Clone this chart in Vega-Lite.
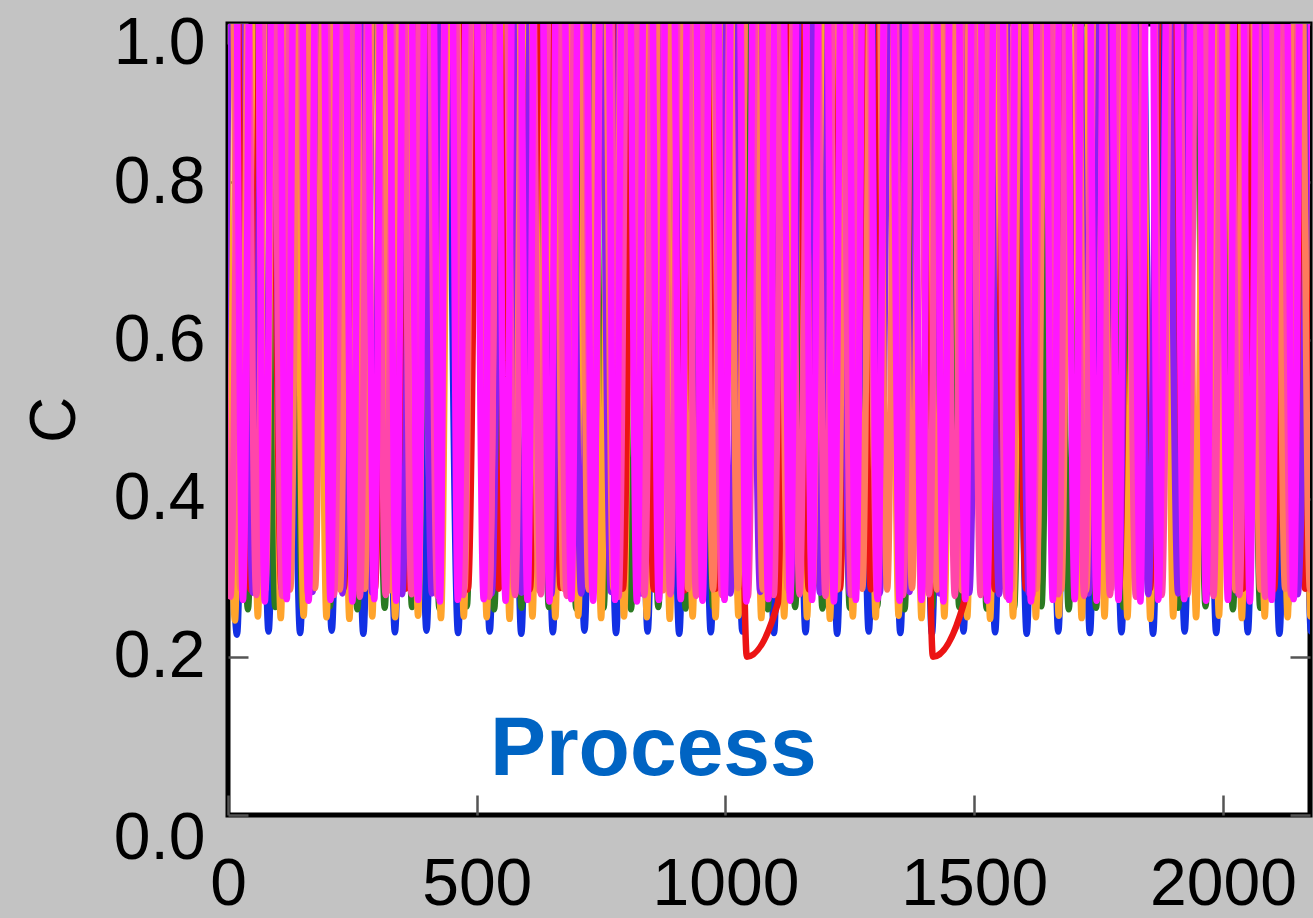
{
  "$schema": "https://vega.github.io/schema/vega-lite/v6.json",
  "width": 1082,
  "height": 791,
  "autosize": {"type": "none"},
  "padding": {"left": 228, "top": 24, "right": 3, "bottom": 103},
  "background": "#c3c3c3",
  "config": {
    "view": {"stroke": "#000000", "strokeWidth": 5, "fill": "#ffffff"},
    "axis": {"labelFont": "Liberation Sans", "titleFont": "Liberation Sans", "labelColor": "#000000", "titleColor": "#000000", "grid": false, "domain": false, "tickColor": "#555555", "tickWidth": 2.5, "tickSize": -20}
  },
  "datasets": {
    "curves": [
      {"s":"b","t":-13.8,"c":1.6},{"s":"b","t":18,"c":0.228},{"s":"b","t":49.8,"c":1.6},{"s":"b","t":81.5,"c":0.232},{"s":"b","t":113.3,"c":1.6},{"s":"b","t":145,"c":0.23},{"s":"b","t":176.8,"c":1.6},{"s":"b","t":208.5,"c":0.233},{"s":"b","t":240.3,"c":1.6},{"s":"b","t":272,"c":0.229},{"s":"b","t":303.8,"c":1.6},{"s":"b","t":335.5,"c":0.231},{"s":"b","t":367.3,"c":1.6},{"s":"b","t":399,"c":0.233},{"s":"b","t":430.8,"c":1.6},{"s":"b","t":462.5,"c":0.23},{"s":"b","t":494.3,"c":1.6},{"s":"b","t":526,"c":0.232},{"s":"b","t":557.8,"c":1.6},{"s":"b","t":589.5,"c":0.229},{"s":"b","t":621.3,"c":1.6},{"s":"b","t":653,"c":0.231},{"s":"b","t":684.8,"c":1.6},{"s":"b","t":716.5,"c":0.233},{"s":"b","t":748.3,"c":1.6},{"s":"b","t":780,"c":0.23},{"s":"b","t":811.8,"c":1.6},{"s":"b","t":843.5,"c":0.232},{"s":"b","t":875.3,"c":1.6},{"s":"b","t":907,"c":0.229},{"s":"b","t":938.8,"c":1.6},{"s":"b","t":970.5,"c":0.231},{"s":"b","t":1002.3,"c":1.6},{"s":"b","t":1034,"c":0.232},{"s":"b","t":1065.8,"c":1.6},{"s":"b","t":1097.5,"c":0.23},{"s":"b","t":1129.3,"c":1.6},{"s":"b","t":1161,"c":0.231},{"s":"b","t":1192.8,"c":1.6},{"s":"b","t":1224.5,"c":0.229},{"s":"b","t":1256.3,"c":1.6},{"s":"b","t":1288,"c":0.232},{"s":"b","t":1319.8,"c":1.6},{"s":"b","t":1351.5,"c":0.23},{"s":"b","t":1383.3,"c":1.6},{"s":"b","t":1415,"c":0.229},{"s":"b","t":1446.8,"c":1.6},{"s":"b","t":1478.5,"c":0.232},{"s":"b","t":1510.3,"c":1.6},{"s":"b","t":1542,"c":0.231},{"s":"b","t":1573.8,"c":1.6},{"s":"b","t":1605.5,"c":0.229},{"s":"b","t":1637.3,"c":1.6},{"s":"b","t":1669,"c":0.232},{"s":"b","t":1700.8,"c":1.6},{"s":"b","t":1732.5,"c":0.23},{"s":"b","t":1764.3,"c":1.6},{"s":"b","t":1796,"c":0.231},{"s":"b","t":1827.8,"c":1.6},{"s":"b","t":1859.5,"c":0.229},{"s":"b","t":1891.3,"c":1.6},{"s":"b","t":1923,"c":0.232},{"s":"b","t":1954.8,"c":1.6},{"s":"b","t":1986.5,"c":0.23},{"s":"b","t":2018.3,"c":1.6},{"s":"b","t":2050,"c":0.231},{"s":"b","t":2081.8,"c":1.6},{"s":"b","t":2113.5,"c":0.229},{"s":"b","t":2145.3,"c":1.6},{"s":"b","t":2177,"c":0.232},{"s":"b","t":2208.8,"c":1.6},

      {"s":"g","t":-15,"c":0.262},{"s":"g","t":12.5,"c":1.6},{"s":"g","t":40,"c":0.26},{"s":"g","t":67.5,"c":1.6},{"s":"g","t":95,"c":0.263},{"s":"g","t":122.5,"c":1.6},{"s":"g","t":150,"c":0.261},{"s":"g","t":177.5,"c":1.6},{"s":"g","t":205,"c":0.264},{"s":"g","t":232.5,"c":1.6},{"s":"g","t":260,"c":0.26},{"s":"g","t":287.5,"c":1.6},{"s":"g","t":315,"c":0.262},{"s":"g","t":342.5,"c":1.6},{"s":"g","t":370,"c":0.263},{"s":"g","t":397.5,"c":1.6},{"s":"g","t":425,"c":0.261},{"s":"g","t":452.5,"c":1.6},{"s":"g","t":480,"c":0.264},{"s":"g","t":507.5,"c":1.6},{"s":"g","t":535,"c":0.26},{"s":"g","t":562.5,"c":1.6},{"s":"g","t":590,"c":0.262},{"s":"g","t":617.5,"c":1.6},{"s":"g","t":645,"c":0.263},{"s":"g","t":672.5,"c":1.6},{"s":"g","t":700,"c":0.261},{"s":"g","t":727.5,"c":1.6},{"s":"g","t":755,"c":0.262},{"s":"g","t":782.5,"c":1.6},{"s":"g","t":810,"c":0.26},{"s":"g","t":837.5,"c":1.6},{"s":"g","t":865,"c":0.263},{"s":"g","t":892.5,"c":1.6},{"s":"g","t":920,"c":0.261},{"s":"g","t":947.5,"c":1.6},{"s":"g","t":975,"c":0.264},{"s":"g","t":1002.5,"c":1.6},{"s":"g","t":1030,"c":0.262},{"s":"g","t":1057.5,"c":1.6},{"s":"g","t":1085,"c":0.26},{"s":"g","t":1112.5,"c":1.6},{"s":"g","t":1140,"c":0.263},{"s":"g","t":1167.5,"c":1.6},{"s":"g","t":1195,"c":0.261},{"s":"g","t":1222.5,"c":1.6},{"s":"g","t":1250,"c":0.262},{"s":"g","t":1277.5,"c":1.6},{"s":"g","t":1305,"c":0.264},{"s":"g","t":1332.5,"c":1.6},{"s":"g","t":1360,"c":0.26},{"s":"g","t":1387.5,"c":1.6},{"s":"g","t":1415,"c":0.262},{"s":"g","t":1442.5,"c":1.6},{"s":"g","t":1470,"c":0.263},{"s":"g","t":1497.5,"c":1.6},{"s":"g","t":1525,"c":0.261},{"s":"g","t":1552.5,"c":1.6},{"s":"g","t":1580,"c":0.262},{"s":"g","t":1607.5,"c":1.6},{"s":"g","t":1635,"c":0.264},{"s":"g","t":1662.5,"c":1.6},{"s":"g","t":1690,"c":0.26},{"s":"g","t":1717.5,"c":1.6},{"s":"g","t":1745,"c":0.262},{"s":"g","t":1772.5,"c":1.6},{"s":"g","t":1800,"c":0.263},{"s":"g","t":1827.5,"c":1.6},{"s":"g","t":1855,"c":0.261},{"s":"g","t":1882.5,"c":1.6},{"s":"g","t":1910,"c":0.262},{"s":"g","t":1937.5,"c":1.6},{"s":"g","t":1965,"c":0.264},{"s":"g","t":1992.5,"c":1.6},{"s":"g","t":2020,"c":0.26},{"s":"g","t":2047.5,"c":1.6},{"s":"g","t":2075,"c":0.262},{"s":"g","t":2102.5,"c":1.6},{"s":"g","t":2130,"c":0.263},{"s":"g","t":2157.5,"c":1.6},{"s":"g","t":2185,"c":0.261},

      {"s":"o","t":-9,"c":1.6},{"s":"o","t":14,"c":0.246},{"s":"o","t":37,"c":1.6},{"s":"o","t":60,"c":0.251},{"s":"o","t":83,"c":1.6},{"s":"o","t":106,"c":0.249},{"s":"o","t":129,"c":1.6},{"s":"o","t":152,"c":0.252},{"s":"o","t":175,"c":1.6},{"s":"o","t":198,"c":0.25},{"s":"o","t":221,"c":1.6},{"s":"o","t":244,"c":0.248},{"s":"o","t":267,"c":1.6},{"s":"o","t":290,"c":0.251},{"s":"o","t":313,"c":1.6},{"s":"o","t":336,"c":0.25},{"s":"o","t":359,"c":1.6},{"s":"o","t":382,"c":0.252},{"s":"o","t":405,"c":1.6},{"s":"o","t":428,"c":0.249},{"s":"o","t":451,"c":1.6},{"s":"o","t":474,"c":0.251},{"s":"o","t":497,"c":1.6},{"s":"o","t":520,"c":0.25},{"s":"o","t":543,"c":1.6},{"s":"o","t":566,"c":0.248},{"s":"o","t":589,"c":1.6},{"s":"o","t":612,"c":0.251},{"s":"o","t":635,"c":1.6},{"s":"o","t":658,"c":0.25},{"s":"o","t":681,"c":1.6},{"s":"o","t":704,"c":0.252},{"s":"o","t":727,"c":1.6},{"s":"o","t":750,"c":0.249},{"s":"o","t":773,"c":1.6},{"s":"o","t":796,"c":0.251},{"s":"o","t":819,"c":1.6},{"s":"o","t":842,"c":0.25},{"s":"o","t":865,"c":1.6},{"s":"o","t":888,"c":0.248},{"s":"o","t":911,"c":1.6},{"s":"o","t":934,"c":0.251},{"s":"o","t":957,"c":1.6},{"s":"o","t":980,"c":0.25},{"s":"o","t":1003,"c":1.6},{"s":"o","t":1026,"c":0.252},{"s":"o","t":1049,"c":1.6},{"s":"o","t":1072,"c":0.249},{"s":"o","t":1095,"c":1.6},{"s":"o","t":1118,"c":0.251},{"s":"o","t":1141,"c":1.6},{"s":"o","t":1164,"c":0.25},{"s":"o","t":1187,"c":1.6},{"s":"o","t":1210,"c":0.248},{"s":"o","t":1233,"c":1.6},{"s":"o","t":1256,"c":0.251},{"s":"o","t":1279,"c":1.6},{"s":"o","t":1302,"c":0.25},{"s":"o","t":1325,"c":1.6},{"s":"o","t":1348,"c":0.252},{"s":"o","t":1371,"c":1.6},{"s":"o","t":1394,"c":0.249},{"s":"o","t":1417,"c":1.6},{"s":"o","t":1440,"c":0.251},{"s":"o","t":1463,"c":1.6},{"s":"o","t":1486,"c":0.25},{"s":"o","t":1509,"c":1.6},{"s":"o","t":1532,"c":0.248},{"s":"o","t":1555,"c":1.6},{"s":"o","t":1578,"c":0.251},{"s":"o","t":1601,"c":1.6},{"s":"o","t":1624,"c":0.25},{"s":"o","t":1647,"c":1.6},{"s":"o","t":1670,"c":0.252},{"s":"o","t":1693,"c":1.6},{"s":"o","t":1716,"c":0.249},{"s":"o","t":1739,"c":1.6},{"s":"o","t":1762,"c":0.251},{"s":"o","t":1785,"c":1.6},{"s":"o","t":1808,"c":0.25},{"s":"o","t":1831,"c":1.6},{"s":"o","t":1854,"c":0.248},{"s":"o","t":1877,"c":1.6},{"s":"o","t":1900,"c":0.251},{"s":"o","t":1923,"c":1.6},{"s":"o","t":1946,"c":0.25},{"s":"o","t":1969,"c":1.6},{"s":"o","t":1992,"c":0.252},{"s":"o","t":2015,"c":1.6},{"s":"o","t":2038,"c":0.249},{"s":"o","t":2061,"c":1.6},{"s":"o","t":2084,"c":0.251},{"s":"o","t":2107,"c":1.6},{"s":"o","t":2130,"c":0.25},{"s":"o","t":2153,"c":1.6},{"s":"o","t":2176,"c":0.251},{"s":"o","t":2199,"c":1.6},

      {"s":"r","t":14.5,"c":1.6},{"s":"r","t":45.7,"c":0.285},{"s":"r","t":76.9,"c":1.6},{"s":"r","t":108,"c":0.286},{"s":"r","t":139.2,"c":1.6},{"s":"r","t":170.3,"c":0.285},{"s":"r","t":201.5,"c":1.6},{"s":"r","t":232.7,"c":0.287},{"s":"r","t":263.8,"c":1.6},{"s":"r","t":295,"c":0.285},{"s":"r","t":326.2,"c":1.6},{"s":"r","t":357.3,"c":0.286},{"s":"r","t":388.5,"c":1.6},{"s":"r","t":419.7,"c":0.284},{"s":"r","t":450.8,"c":1.6},{"s":"r","t":482,"c":0.285},{"s":"r","t":513.2,"c":1.6},{"s":"r","t":544.3,"c":0.286},{"s":"r","t":575.5,"c":1.6},{"s":"r","t":606.7,"c":0.285},{"s":"r","t":637.8,"c":1.6},{"s":"r","t":669,"c":0.287},{"s":"r","t":700.2,"c":1.6},{"s":"r","t":731.3,"c":0.285},{"s":"r","t":762.5,"c":1.6},{"s":"r","t":793.7,"c":0.286},{"s":"r","t":824.8,"c":1.6},{"s":"r","t":856,"c":0.285},{"s":"r","t":887.2,"c":1.6},{"s":"r","t":918.3,"c":0.284},{"s":"r","t":949.5,"c":1.6},{"s":"r","t":980.7,"c":0.286},{"s":"r","t":1011.8,"c":1.6},{"s":"r","t":1043,"c":0.2},{"s":"r","t":1105.3,"c":0.268},{"s":"r","t":1136.5,"c":1.6},{"s":"r","t":1167.7,"c":0.285},{"s":"r","t":1198.8,"c":1.6},{"s":"r","t":1230,"c":0.286},{"s":"r","t":1261.2,"c":1.6},{"s":"r","t":1292.3,"c":0.285},{"s":"r","t":1323.5,"c":1.6},{"s":"r","t":1354.7,"c":0.286},{"s":"r","t":1385.8,"c":1.6},{"s":"r","t":1417,"c":0.2},{"s":"r","t":1479.3,"c":0.268},{"s":"r","t":1510.5,"c":1.6},{"s":"r","t":1541.7,"c":0.285},{"s":"r","t":1572.8,"c":1.6},{"s":"r","t":1604,"c":0.286},{"s":"r","t":1635.2,"c":1.6},{"s":"r","t":1666.3,"c":0.285},{"s":"r","t":1697.5,"c":1.6},{"s":"r","t":1728.7,"c":0.287},{"s":"r","t":1759.8,"c":1.6},{"s":"r","t":1791,"c":0.285},{"s":"r","t":1822.2,"c":1.6},{"s":"r","t":1853.3,"c":0.286},{"s":"r","t":1884.5,"c":1.6},{"s":"r","t":1915.7,"c":0.285},{"s":"r","t":1946.8,"c":1.6},{"s":"r","t":1978,"c":0.284},{"s":"r","t":2009.2,"c":1.6},{"s":"r","t":2040.3,"c":0.286},{"s":"r","t":2071.5,"c":1.6},{"s":"r","t":2102.7,"c":0.285},{"s":"r","t":2133.8,"c":1.6},{"s":"r","t":2165,"c":0.286},{"s":"r","t":2196.2,"c":1.6},

      {"s":"p","t":-10,"c":0.28},{"s":"p","t":20,"c":1.6},{"s":"p","t":50,"c":0.281},{"s":"p","t":80,"c":1.6},{"s":"p","t":110,"c":0.279},{"s":"p","t":140,"c":1.6},{"s":"p","t":170,"c":0.282},{"s":"p","t":200,"c":1.6},{"s":"p","t":230,"c":0.28},{"s":"p","t":260,"c":1.6},{"s":"p","t":290,"c":0.281},{"s":"p","t":320,"c":1.6},{"s":"p","t":350,"c":0.279},{"s":"p","t":380,"c":1.6},{"s":"p","t":410,"c":0.28},{"s":"p","t":440,"c":1.6},{"s":"p","t":470,"c":0.282},{"s":"p","t":500,"c":1.6},{"s":"p","t":530,"c":0.28},{"s":"p","t":560,"c":1.6},{"s":"p","t":590,"c":0.281},{"s":"p","t":620,"c":1.6},{"s":"p","t":650,"c":0.279},{"s":"p","t":680,"c":1.6},{"s":"p","t":710,"c":0.28},{"s":"p","t":740,"c":1.6},{"s":"p","t":770,"c":0.282},{"s":"p","t":800,"c":1.6},{"s":"p","t":830,"c":0.28},{"s":"p","t":860,"c":1.6},{"s":"p","t":890,"c":0.281},{"s":"p","t":920,"c":1.6},{"s":"p","t":950,"c":0.279},{"s":"p","t":980,"c":1.6},{"s":"p","t":1010,"c":0.28},{"s":"p","t":1040,"c":1.6},{"s":"p","t":1070,"c":0.282},{"s":"p","t":1100,"c":1.6},{"s":"p","t":1130,"c":0.28},{"s":"p","t":1160,"c":1.6},{"s":"p","t":1190,"c":0.281},{"s":"p","t":1220,"c":1.6},{"s":"p","t":1250,"c":0.279},{"s":"p","t":1280,"c":1.6},{"s":"p","t":1310,"c":0.28},{"s":"p","t":1340,"c":1.6},{"s":"p","t":1370,"c":0.282},{"s":"p","t":1400,"c":1.6},{"s":"p","t":1430,"c":0.28},{"s":"p","t":1460,"c":1.6},{"s":"p","t":1490,"c":0.281},{"s":"p","t":1520,"c":1.6},{"s":"p","t":1550,"c":0.279},{"s":"p","t":1580,"c":1.6},{"s":"p","t":1610,"c":0.28},{"s":"p","t":1640,"c":1.6},{"s":"p","t":1670,"c":0.282},{"s":"p","t":1700,"c":1.6},{"s":"p","t":1730,"c":0.28},{"s":"p","t":1760,"c":1.6},{"s":"p","t":1790,"c":0.281},{"s":"p","t":1820,"c":1.6},{"s":"p","t":1850,"c":0.279},{"s":"p","t":1880,"c":1.6},{"s":"p","t":1910,"c":0.28},{"s":"p","t":1940,"c":1.6},{"s":"p","t":1970,"c":0.282},{"s":"p","t":2000,"c":1.6},{"s":"p","t":2030,"c":0.28},{"s":"p","t":2060,"c":1.6},{"s":"p","t":2090,"c":0.281},{"s":"p","t":2120,"c":1.6},{"s":"p","t":2150,"c":0.279},{"s":"p","t":2180,"c":1.6},

      {"s":"l","t":-25,"c":0.285},{"s":"l","t":0,"c":1.6},{"s":"l","t":25,"c":0.286},{"s":"l","t":50,"c":1.6},{"s":"l","t":75,"c":0.284},{"s":"l","t":100,"c":1.6},{"s":"l","t":125,"c":0.285},{"s":"l","t":150,"c":1.6},{"s":"l","t":175,"c":0.287},{"s":"l","t":200,"c":1.6},{"s":"l","t":225,"c":0.285},{"s":"l","t":250,"c":1.6},{"s":"l","t":275,"c":0.286},{"s":"l","t":300,"c":1.6},{"s":"l","t":325,"c":0.284},{"s":"l","t":350,"c":1.6},{"s":"l","t":375,"c":0.285},{"s":"l","t":400,"c":1.6},{"s":"l","t":425,"c":0.286},{"s":"l","t":450,"c":1.6},{"s":"l","t":475,"c":0.285},{"s":"l","t":500,"c":1.6},{"s":"l","t":525,"c":0.287},{"s":"l","t":550,"c":1.6},{"s":"l","t":575,"c":0.285},{"s":"l","t":600,"c":1.6},{"s":"l","t":625,"c":0.284},{"s":"l","t":650,"c":1.6},{"s":"l","t":675,"c":0.286},{"s":"l","t":700,"c":1.6},{"s":"l","t":725,"c":0.285},{"s":"l","t":750,"c":1.6},{"s":"l","t":775,"c":0.286},{"s":"l","t":800,"c":1.6},{"s":"l","t":825,"c":0.285},{"s":"l","t":850,"c":1.6},{"s":"l","t":875,"c":0.284},{"s":"l","t":900,"c":1.6},{"s":"l","t":925,"c":0.286},{"s":"l","t":950,"c":1.6},{"s":"l","t":975,"c":0.285},{"s":"l","t":1000,"c":1.6},{"s":"l","t":1025,"c":0.287},{"s":"l","t":1050,"c":1.6},{"s":"l","t":1075,"c":0.285},{"s":"l","t":1100,"c":1.6},{"s":"l","t":1125,"c":0.286},{"s":"l","t":1150,"c":1.6},{"s":"l","t":1175,"c":0.284},{"s":"l","t":1200,"c":1.6},{"s":"l","t":1225,"c":0.285},{"s":"l","t":1250,"c":1.6},{"s":"l","t":1275,"c":0.286},{"s":"l","t":1300,"c":1.6},{"s":"l","t":1325,"c":0.285},{"s":"l","t":1350,"c":1.6},{"s":"l","t":1375,"c":0.287},{"s":"l","t":1400,"c":1.6},{"s":"l","t":1425,"c":0.285},{"s":"l","t":1450,"c":1.6},{"s":"l","t":1475,"c":0.284},{"s":"l","t":1500,"c":1.6},{"s":"l","t":1525,"c":0.286},{"s":"l","t":1550,"c":1.6},{"s":"l","t":1575,"c":0.285},{"s":"l","t":1600,"c":1.6},{"s":"l","t":1625,"c":0.286},{"s":"l","t":1650,"c":1.6},{"s":"l","t":1675,"c":0.285},{"s":"l","t":1700,"c":1.6},{"s":"l","t":1725,"c":0.284},{"s":"l","t":1750,"c":1.6},{"s":"l","t":1775,"c":0.286},{"s":"l","t":1800,"c":1.6},{"s":"l","t":1825,"c":0.285},{"s":"l","t":1850,"c":1.6},{"s":"l","t":1875,"c":0.287},{"s":"l","t":1900,"c":1.6},{"s":"l","t":1925,"c":0.285},{"s":"l","t":1950,"c":1.6},{"s":"l","t":1975,"c":0.286},{"s":"l","t":2000,"c":1.6},{"s":"l","t":2025,"c":0.284},{"s":"l","t":2050,"c":1.6},{"s":"l","t":2075,"c":0.285},{"s":"l","t":2100,"c":1.6},{"s":"l","t":2125,"c":0.286},{"s":"l","t":2150,"c":1.6},{"s":"l","t":2175,"c":0.285},{"s":"l","t":2200,"c":1.6},

      {"s":"k","t":-21,"c":1.6},{"s":"k","t":5,"c":0.276},{"s":"k","t":31,"c":1.6},{"s":"k","t":57,"c":0.278},{"s":"k","t":83,"c":1.6},{"s":"k","t":109,"c":0.277},{"s":"k","t":135,"c":1.6},{"s":"k","t":161,"c":0.279},{"s":"k","t":187,"c":1.6},{"s":"k","t":213,"c":0.278},{"s":"k","t":239,"c":1.6},{"s":"k","t":265,"c":0.276},{"s":"k","t":291,"c":1.6},{"s":"k","t":317,"c":0.278},{"s":"k","t":343,"c":1.6},{"s":"k","t":369,"c":0.279},{"s":"k","t":395,"c":1.6},{"s":"k","t":421,"c":0.277},{"s":"k","t":447,"c":1.6},{"s":"k","t":473,"c":0.278},{"s":"k","t":499,"c":1.6},{"s":"k","t":525,"c":0.276},{"s":"k","t":551,"c":1.6},{"s":"k","t":577,"c":0.278},{"s":"k","t":603,"c":1.6},{"s":"k","t":629,"c":0.279},{"s":"k","t":655,"c":1.6},{"s":"k","t":681,"c":0.277},{"s":"k","t":707,"c":1.6},{"s":"k","t":733,"c":0.278},{"s":"k","t":759,"c":1.6},{"s":"k","t":785,"c":0.276},{"s":"k","t":811,"c":1.6},{"s":"k","t":837,"c":0.278},{"s":"k","t":863,"c":1.6},{"s":"k","t":889,"c":0.279},{"s":"k","t":915,"c":1.6},{"s":"k","t":941,"c":0.277},{"s":"k","t":967,"c":1.6},{"s":"k","t":993,"c":0.278},{"s":"k","t":1019,"c":1.6},{"s":"k","t":1045,"c":0.276},{"s":"k","t":1071,"c":1.6},{"s":"k","t":1097,"c":0.278},{"s":"k","t":1123,"c":1.6},{"s":"k","t":1149,"c":0.279},{"s":"k","t":1175,"c":1.6},{"s":"k","t":1201,"c":0.277},{"s":"k","t":1227,"c":1.6},{"s":"k","t":1253,"c":0.278},{"s":"k","t":1279,"c":1.6},{"s":"k","t":1305,"c":0.276},{"s":"k","t":1331,"c":1.6},{"s":"k","t":1357,"c":0.278},{"s":"k","t":1383,"c":1.6},{"s":"k","t":1409,"c":0.279},{"s":"k","t":1435,"c":1.6},{"s":"k","t":1461,"c":0.277},{"s":"k","t":1487,"c":1.6},{"s":"k","t":1513,"c":0.278},{"s":"k","t":1539,"c":1.6},{"s":"k","t":1565,"c":0.276},{"s":"k","t":1591,"c":1.6},{"s":"k","t":1617,"c":0.278},{"s":"k","t":1643,"c":1.6},{"s":"k","t":1669,"c":0.279},{"s":"k","t":1695,"c":1.6},{"s":"k","t":1721,"c":0.277},{"s":"k","t":1747,"c":1.6},{"s":"k","t":1773,"c":0.278},{"s":"k","t":1799,"c":1.6},{"s":"k","t":1825,"c":0.276},{"s":"k","t":1851,"c":1.6},{"s":"k","t":1877,"c":0.278},{"s":"k","t":1903,"c":1.6},{"s":"k","t":1929,"c":0.279},{"s":"k","t":1955,"c":1.6},{"s":"k","t":1981,"c":0.277},{"s":"k","t":2007,"c":1.6},{"s":"k","t":2033,"c":0.278},{"s":"k","t":2059,"c":1.6},{"s":"k","t":2085,"c":0.276},{"s":"k","t":2111,"c":1.6},{"s":"k","t":2137,"c":0.278},{"s":"k","t":2163,"c":1.6},{"s":"k","t":2189,"c":0.277},

      {"s":"m","t":-14,"c":0.27},{"s":"m","t":8,"c":1.6},{"s":"m","t":30,"c":0.272},{"s":"m","t":52,"c":1.6},{"s":"m","t":74,"c":0.27},{"s":"m","t":96,"c":1.6},{"s":"m","t":118,"c":0.273},{"s":"m","t":140,"c":1.6},{"s":"m","t":162,"c":0.271},{"s":"m","t":184,"c":1.6},{"s":"m","t":206,"c":0.272},{"s":"m","t":228,"c":1.6},{"s":"m","t":250,"c":0.27},{"s":"m","t":272,"c":1.6},{"s":"m","t":294,"c":0.273},{"s":"m","t":316,"c":1.6},{"s":"m","t":338,"c":0.271},{"s":"m","t":360,"c":1.6},{"s":"m","t":382,"c":0.272},{"s":"m","t":404,"c":1.6},{"s":"m","t":426,"c":0.27},{"s":"m","t":444,"c":1.6},{"s":"m","t":462,"c":0.272},{"s":"m","t":490,"c":1.6},{"s":"m","t":514,"c":0.273},{"s":"m","t":536,"c":1.6},{"s":"m","t":558,"c":0.271},{"s":"m","t":580,"c":1.6},{"s":"m","t":602,"c":0.272},{"s":"m","t":624,"c":1.6},{"s":"m","t":646,"c":0.27},{"s":"m","t":668,"c":1.6},{"s":"m","t":690,"c":0.273},{"s":"m","t":712,"c":1.6},{"s":"m","t":734,"c":0.271},{"s":"m","t":756,"c":1.6},{"s":"m","t":778,"c":0.272},{"s":"m","t":800,"c":1.6},{"s":"m","t":822,"c":0.27},{"s":"m","t":844,"c":1.6},{"s":"m","t":866,"c":0.272},{"s":"m","t":888,"c":1.6},{"s":"m","t":910,"c":0.273},{"s":"m","t":932,"c":1.6},{"s":"m","t":954,"c":0.271},{"s":"m","t":976,"c":1.6},{"s":"m","t":998,"c":0.272},{"s":"m","t":1020,"c":1.6},{"s":"m","t":1042,"c":0.27},{"s":"m","t":1064,"c":1.6},{"s":"m","t":1086,"c":0.273},{"s":"m","t":1108,"c":1.6},{"s":"m","t":1130,"c":0.271},{"s":"m","t":1152,"c":1.6},{"s":"m","t":1174,"c":0.272},{"s":"m","t":1196,"c":1.6},{"s":"m","t":1218,"c":0.27},{"s":"m","t":1240,"c":1.6},{"s":"m","t":1262,"c":0.272},{"s":"m","t":1284,"c":1.6},{"s":"m","t":1306,"c":0.273},{"s":"m","t":1328,"c":1.6},{"s":"m","t":1350,"c":0.271},{"s":"m","t":1372,"c":1.6},{"s":"m","t":1394,"c":0.272},{"s":"m","t":1416,"c":1.6},{"s":"m","t":1438,"c":0.27},{"s":"m","t":1460,"c":1.6},{"s":"m","t":1482,"c":0.273},{"s":"m","t":1504,"c":1.6},{"s":"m","t":1526,"c":0.271},{"s":"m","t":1548,"c":1.6},{"s":"m","t":1570,"c":0.272},{"s":"m","t":1592,"c":1.6},{"s":"m","t":1614,"c":0.27},{"s":"m","t":1636,"c":1.6},{"s":"m","t":1658,"c":0.272},{"s":"m","t":1680,"c":1.6},{"s":"m","t":1702,"c":0.273},{"s":"m","t":1724,"c":1.6},{"s":"m","t":1746,"c":0.271},{"s":"m","t":1768,"c":1.6},{"s":"m","t":1790,"c":0.272},{"s":"m","t":1812,"c":1.6},{"s":"m","t":1834,"c":0.27},{"s":"m","t":1852,"c":1.6},{"s":"m","t":1870,"c":0.272},{"s":"m","t":1898,"c":1.6},{"s":"m","t":1922,"c":0.273},{"s":"m","t":1944,"c":1.6},{"s":"m","t":1966,"c":0.271},{"s":"m","t":1988,"c":1.6},{"s":"m","t":2010,"c":0.272},{"s":"m","t":2032,"c":1.6},{"s":"m","t":2054,"c":0.27},{"s":"m","t":2076,"c":1.6},{"s":"m","t":2098,"c":0.272},{"s":"m","t":2120,"c":1.6},{"s":"m","t":2142,"c":0.273},{"s":"m","t":2164,"c":1.6},{"s":"m","t":2186,"c":0.271}
    ],
    "note": [{"t": 855, "c": 0.0506, "label": "Process"}]
  },
  "layer": [
    {
      "data": {"name": "curves"},
      "mark": {"type": "line", "strokeWidth": 6.5, "interpolate": "monotone", "clip": true},
      "encoding": {
        "x": {"field": "t", "type": "quantitative", "scale": {"domain": [0, 2175], "nice": false, "zero": false},
          "axis": {"orient": "bottom", "values": [0, 500, 1000, 1500, 2000], "format": "d", "labelFontSize": 66, "labelPadding": 57, "labelFlush": false, "title": null}},
        "y": {"field": "c", "type": "quantitative", "scale": {"domain": [0, 1], "nice": false},
          "axis": {"orient": "left", "values": [0, 0.2, 0.4, 0.6, 0.8, 1], "format": ".1f", "labelFontSize": 66, "labelPadding": 43, "labelFlush": false,
            "labelOffset": {"condition": [{"test": "datum.value == 1", "value": 19}, {"test": "datum.value == 0", "value": 23}], "value": 0},
            "title": "C", "titleFontSize": 64, "titleFontWeight": "normal", "titlePadding": 26}},
        "color": {"field": "s", "type": "nominal", "legend": null,
          "scale": {"domain": ["b", "g", "o", "r", "p", "l", "k", "m"], "range": ["#1230e4", "#2b7a22", "#ffa42c", "#ec1414", "#8c20f0", "#ff7a5c", "#ff46aa", "#ff16ff"]}}
      }
    },
    {
      "data": {"name": "note"},
      "mark": {"type": "text", "font": "Liberation Sans", "fontWeight": "bold", "fontSize": 84, "color": "#0064c3", "align": "center", "baseline": "alphabetic"},
      "encoding": {
        "x": {"field": "t", "type": "quantitative", "axis": {"orient": "top", "values": [0, 500, 1000, 1500, 2000], "labels": false, "title": null}},
        "y": {"field": "c", "type": "quantitative", "axis": {"orient": "right", "values": [0, 0.2, 0.4, 0.6, 0.8, 1], "labels": false, "title": null}},
        "text": {"field": "label"}
      }
    }
  ],
  "resolve": {"axis": {"x": "independent", "y": "independent"}}
}
